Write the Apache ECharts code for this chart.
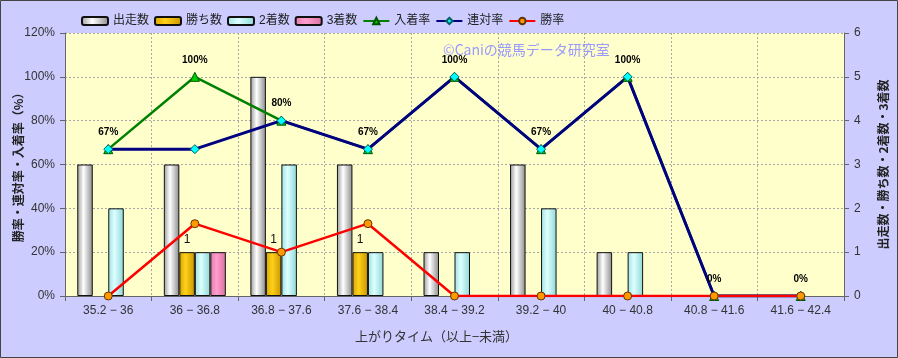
<!DOCTYPE html>
<html><head><meta charset="utf-8">
<script src="https://cdn.jsdelivr.net/npm/echarts@6/dist/echarts.min.js"></script>
<style>html,body{margin:0;padding:0;background:#CCCCFF}#c{width:898px;height:358px}</style>
</head><body><div id="c"></div>
<script>
const categories = ['35.2 − 36','36 − 36.8','36.8 − 37.6','37.6 − 38.4','38.4 − 39.2','39.2 − 40','40 − 40.8','40.8 − 41.6','41.6 − 42.4'];
const runs    = [3,3,5,3,1,3,1,0,0];
const wins    = [0,1,1,1,0,0,0,0,0];
const seconds = [2,1,3,1,1,2,1,0,0];
const thirds  = [0,1,0,0,0,0,0,0,0];
const placeRate = [67,100,80,67,100,67,100,0,0];
const quinellaRate = [67,67,80,67,100,67,100,0,0];
const winRate = [0,33,20,33,0,0,0,0,0];
const leftTicks = [0,20,40,60,80,100,120];
const rightTicks = [0,1,2,3,4,5,6];

const FONT = '"Liberation Sans","Noto Sans CJK JP",sans-serif';
const JP = '"Noto Sans CJK JP",sans-serif';
function hgrad(a,b,c){return new echarts.graphic.LinearGradient(0,0,1,0,[{offset:0,color:a},{offset:0.4,color:b},{offset:1,color:c}]);}
const hideZero = arr => arr.map(v => v === 0 ? '-' : v);
const chart = echarts.init(document.getElementById('c'));
const BW = 15.5;
const gridLine = {show:true,lineStyle:{color:'#a8a8a8',type:[2,2],width:1}};
chart.setOption({
  animation:false,
  backgroundColor:'#CCCCFF',
  textStyle:{fontFamily:FONT},
  grid:{left:65,right:54,top:33,bottom:62,outerBoundsMode:'none',containLabel:false,show:true,backgroundColor:'#FFFFCC',borderWidth:0},
  legend:{top:10,left:76,itemWidth:26,itemHeight:8,itemGap:5,
    textStyle:{fontSize:12,color:'#222',fontFamily:FONT},
    data:['出走数','勝ち数','2着数','3着数','入着率','連対率','勝率']},
  graphic:[
    {type:'text',left:443,top:43,z:100,style:{text:'©Caniの競馬データ研究室',fill:'#9999FF',font:'14px "Noto Sans CJK JP",sans-serif'}},
    {type:'rect',shape:{x:0.5,y:0.5,width:897,height:357},style:{fill:'none',stroke:'#444',lineWidth:1},z:100}
  ],
  xAxis:{type:'category',data:categories,boundaryGap:true,
    name:'上がりタイム（以上−未満）',nameLocation:'middle',nameGap:34,nameMoveOverlap:false,
    nameTextStyle:{fontSize:13,color:'#333',fontFamily:JP,padding:[0,36,0,0]},
    axisLine:{lineStyle:{color:'#666',width:1}},
    axisTick:{show:true,alignWithLabel:false,lineStyle:{color:'#666'}},
    axisLabel:{fontSize:12,color:'#333',margin:9,interval:0},
    splitLine:Object.assign({interval:0},gridLine)},
  yAxis:[
    {type:'value',min:leftTicks[0],max:leftTicks[leftTicks.length-1],interval:20,
      name:'勝率・連対率・入着率（%）',nameLocation:'middle',nameGap:41,nameRotate:90,nameMoveOverlap:false,
      nameTextStyle:{fontSize:12,fontWeight:'bold',color:'#222',fontFamily:JP},
      axisLine:{show:true,lineStyle:{color:'#666'}},axisTick:{show:true,lineStyle:{color:'#666'}},
      axisLabel:{fontSize:12,color:'#333',margin:10,formatter:'{value}%'},
      splitLine:gridLine},
    {type:'value',min:rightTicks[0],max:rightTicks[rightTicks.length-1],interval:1,position:'right',
      name:'出走数・勝ち数・2着数・3着数',nameLocation:'middle',nameGap:33,nameRotate:90,nameMoveOverlap:false,
      nameTextStyle:{fontSize:12,fontWeight:'bold',color:'#222',fontFamily:JP},
      axisLine:{show:true,lineStyle:{color:'#666'}},axisTick:{show:true,lineStyle:{color:'#666'}},
      axisLabel:{fontSize:12,color:'#333',margin:10},
      splitLine:{show:false}}
  ],
  series:[
    {name:'出走数',type:'bar',yAxisIndex:1,data:hideZero(runs),barWidth:BW,barGap:'0%',
      itemStyle:{color:hgrad('#9a9a9a','#ffffff','#8a8a8a'),borderColor:'#111',borderWidth:1}},
    {name:'勝ち数',type:'bar',yAxisIndex:1,data:hideZero(wins),barWidth:BW,barGap:'0%',
      itemStyle:{color:hgrad('#d9a400','#ffd11a','#c99600'),borderColor:'#111',borderWidth:1},
      label:{show:true,position:'top',distance:6,fontSize:12,color:'#111'}},
    {name:'2着数',type:'bar',yAxisIndex:1,data:hideZero(seconds),barWidth:BW,barGap:'0%',
      itemStyle:{color:hgrad('#9fe0e0','#ddffff','#8fd6d6'),borderColor:'#111',borderWidth:1}},
    {name:'3着数',type:'bar',yAxisIndex:1,data:hideZero(thirds),barWidth:BW,barGap:'0%',
      itemStyle:{color:hgrad('#e07aae','#ff9fcf','#d8709f'),borderColor:'#111',borderWidth:1}},
    {name:'入着率',type:'line',yAxisIndex:0,data:placeRate,symbol:'triangle',symbolSize:9,
      lineStyle:{color:'#008000',width:2.5},itemStyle:{color:'#00CC00',borderColor:'#005500',borderWidth:1},
      label:{show:true,position:'top',distance:7,fontSize:10,fontWeight:'bold',color:'#000',formatter:'{c}%'}},
    {name:'連対率',type:'line',yAxisIndex:0,data:quinellaRate,symbol:'diamond',symbolSize:9,
      lineStyle:{color:'#000080',width:3},itemStyle:{color:'#00FFFF',borderColor:'#006060',borderWidth:1}},
    {name:'勝率',type:'line',yAxisIndex:0,data:winRate,symbol:'circle',symbolSize:8,
      lineStyle:{color:'#FF0000',width:2.5},itemStyle:{color:'#FF9900',borderColor:'#663300',borderWidth:1}}
  ]
});
</script></body></html>
